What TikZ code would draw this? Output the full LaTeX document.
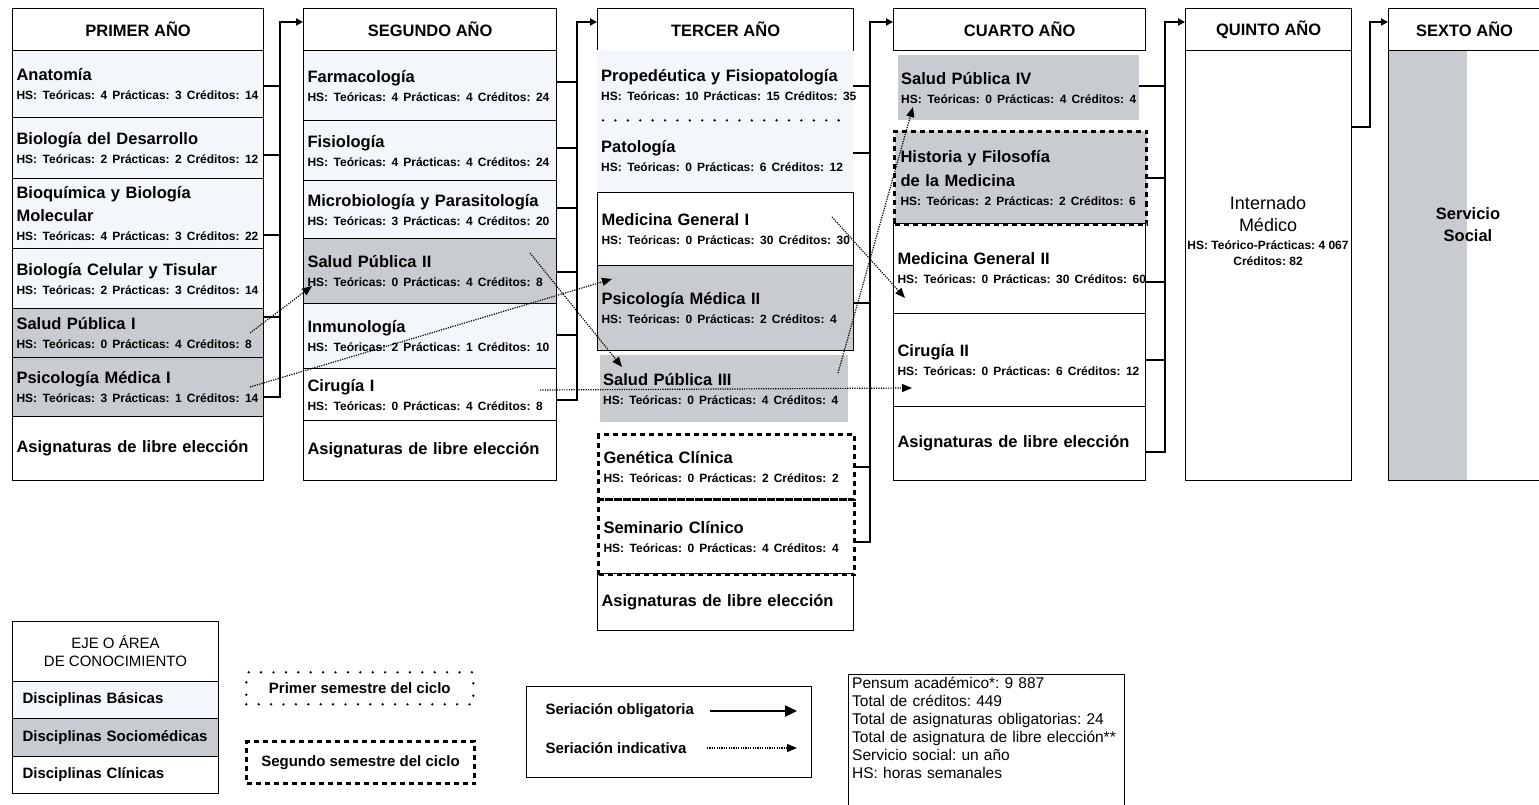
\documentclass[tikz,border=0pt]{standalone}
\usepackage{fontspec}
\setmainfont{Liberation Sans}
\usetikzlibrary{arrows.meta,calc}
\frenchspacing

\definecolor{basica}{RGB}{243,246,250}
\definecolor{socio}{RGB}{200,203,207}

\newcommand{\tfont}{\fontsize{16.5}{19}\selectfont\bfseries}
\newcommand{\hfont}{\fontsize{12}{14}\selectfont\bfseries}
\newcommand{\legf}{\fontsize{15}{18}\selectfont\bfseries}
% title line and hours line of one subject
\newcommand{\asig}[2]{#1\\{\hfont\mbox{#2}}}
\newcommand{\hs}[3]{HS: Teóricas: #1\hspace{5pt}Prácticas: #2\hspace{5pt}Créditos: #3}

\tikzset{
  yearhead/.style={draw, line width=1.2pt, anchor=north west, minimum height=42pt,
    font=\fontsize{16.5}{19}\selectfont\bfseries},
  row/.style={anchor=north west, align=left, inner xsep=4pt, inner ysep=2pt, font=\tfont},
  rowframe/.style={draw, line width=1.1pt},
  semdash/.style={draw, line width=3pt, dash pattern=on 5pt off 4pt},
  semdot/.style={draw, line width=2.6pt, dash pattern=on 0pt off 12.4pt, line cap=round},
  conn/.style={line width=1.8pt},
  oblig/.style={conn, -{Triangle[length=7pt,width=7pt]}},
  indic/.style={line width=1.2pt, dash pattern=on 1.2pt off 1.2pt, -{Triangle[length=10pt,width=8pt]}},
  legrow/.style={draw, line width=1pt, anchor=north west, align=left, text width=186pt,
    inner xsep=10pt, font=\legf},
}

\begin{document}
\begin{tikzpicture}[x=1pt, y=-1pt]

    \useasboundingbox (0,0) rectangle (1539,805);

    % Primer año
    \node[yearhead, minimum width=251pt] (h1) at (12,8) {PRIMER AÑO};
    \node[row, rowframe, fill=basica, text width=243pt, minimum height=67pt] (anat) at (12,50) {\asig{Anatomía}{\hs{4}{3}{14}}};
    \node[row, rowframe, fill=basica, text width=243pt, minimum height=61pt] (bdes) at (12,117) {\asig{Biología del Desarrollo}{\hs{2}{2}{12}}};
    \node[row, rowframe, fill=basica, text width=243pt, minimum height=70pt] (bioq) at (12,178) {Bioquímica y Biología\\[4pt]\asig{Molecular}{\hs{4}{3}{22}}};
    \node[row, rowframe, fill=basica, text width=243pt, minimum height=60pt] (bcel) at (12,248) {\asig{Biología Celular y Tisular}{\hs{2}{3}{14}}};
    \node[row, rowframe, fill=socio, text width=243pt, minimum height=49pt] (sp1) at (12,308) {\asig{Salud Pública I}{\hs{0}{4}{8}}};
    \node[row, rowframe, fill=socio, text width=243pt, minimum height=59pt] (psi1) at (12,357) {\asig{Psicología Médica I}{\hs{3}{1}{14}}};
    \node[row, rowframe, text width=243pt, minimum height=64pt] (lib1) at (12,416) {Asignaturas de libre elección};

    % Segundo año
    \node[yearhead, minimum width=253pt] (h2) at (303,8) {SEGUNDO AÑO};
    \node[row, rowframe, fill=basica, text width=245pt, minimum height=70pt] (farm) at (303,50) {\asig{Farmacología}{\hs{4}{4}{24}}};
    \node[row, rowframe, fill=basica, text width=245pt, minimum height=60pt] (fisi) at (303,120) {\asig{Fisiología}{\hs{4}{4}{24}}};
    \node[row, rowframe, fill=basica, text width=245pt, minimum height=58pt] (micro) at (303,180) {\asig{Microbiología y Parasitología}{\hs{3}{4}{20}}};
    \node[row, rowframe, fill=socio, text width=245pt, minimum height=65pt] (sp2) at (303,238) {\asig{Salud Pública II}{\hs{0}{4}{8}}};
    \node[row, rowframe, fill=basica, text width=245pt, minimum height=65pt] (inmu) at (303,303) {\asig{Inmunología}{\hs{2}{1}{10}}};
    \node[row, rowframe, text width=245pt, minimum height=52pt] (cir1) at (303,368) {\asig{Cirugía I}{\hs{0}{4}{8}}};
    \node[row, rowframe, text width=245pt, minimum height=60pt] (lib2) at (303,420) {Asignaturas de libre elección};

    % Tercer año
    \node[yearhead, minimum width=256pt] (h3) at (597,8) {TERCER AÑO};
    \node[row, fill=basica, text width=248pt, minimum height=70pt] (prop) at (597,50) {\asig{Propedéutica y Fisiopatología}{\hs{10}{15}{35}}};
    \node[row, fill=basica, text width=248pt, minimum height=72pt] (pato) at (597,120) {\asig{Patología}{\hs{0}{6}{12}}};
    \draw[semdot] ([xshift=6pt]prop.south west) -- ([xshift=-4pt]prop.south east);
    \node[row, rowframe, text width=248pt, minimum height=73pt] (mg1) at (597,192) {\asig{Medicina General I}{\hs{0}{30}{30}}};
    \node[row, rowframe, fill=socio, text width=248pt, minimum height=85pt] (psi2) at (597,265) {\asig{Psicología Médica II}{\hs{0}{2}{4}}};
    \node[row, fill=socio, inner xsep=3pt, text width=242pt, minimum height=67pt] (sp3) at (600,355) {\asig{Salud Pública III}{\hs{0}{4}{4}}};
    \node[row, rowframe, text width=248pt, minimum height=57pt] (lib3) at (597,573) {Asignaturas de libre elección};
    \node[row, semdash, inner xsep=5pt, text width=246pt, minimum height=65pt] (gen) at (597,433) {\asig{Genética Clínica}{\hs{0}{2}{2}}};
    \node[row, semdash, inner xsep=5pt, text width=246pt, minimum height=75pt] (sem) at (597,498) {\asig{Seminario Clínico}{\hs{0}{4}{4}}};

    % Cuarto año
    \node[yearhead, minimum width=252pt] (h4) at (893,8) {CUARTO AÑO};
    \node[row, fill=socio, inner xsep=3pt, text width=235pt, minimum height=65pt] (sp4) at (898,55) {\asig{Salud Pública IV}{\hs{0}{4}{4}}};
    \node[row, semdash, fill=socio, inner xsep=6pt, text width=240pt, minimum height=93pt] (hist) at (893,130) {Historia y Filosofía\\[5pt]\asig{de la Medicina}{\hs{2}{2}{6}}};
    \node[row, rowframe, text width=244pt, minimum height=90pt] (mg2) at (893,223) {\asig{Medicina General II}{\hs{0}{30}{60}}};
    \node[row, rowframe, text width=244pt, minimum height=93pt] (cir2) at (893,313) {\asig{Cirugía II}{\hs{0}{6}{12}}};
    \node[row, rowframe, text width=244pt, minimum height=74pt] (lib4) at (893,406) {Asignaturas de libre elección};

    % Quinto año
    \node[yearhead, minimum width=166pt] (h5) at (1185,8) {QUINTO AÑO};
    \node[rowframe, anchor=north west, minimum width=166pt, minimum height=430pt] (intb) at (1185,50) {};
    \node[align=center, font=\fontsize{18}{22}\selectfont] (intt) at (1268,231)
      {Internado\\Médico\\[-4pt]{\hfont HS: Teórico-Prácticas: 4 067}\\[-6pt]{\hfont Créditos: 82}};

    % Sexto año
    \node[yearhead, minimum width=152pt] (h6) at (1388,8) {SEXTO AÑO};
    \node[fill=socio, anchor=north west, minimum width=79pt, minimum height=430pt] (ssg) at (1388,50) {};
    \node[rowframe, anchor=north west, minimum width=152pt, minimum height=430pt] (ssb) at (1388,50) {};
    \node[align=center, font=\fontsize{16.5}{22}\selectfont\bfseries] (sst) at (1468,225) {Servicio\\Social};

    % seriación obligatoria
    \coordinate (bus1) at (280,22);
    \coordinate (bus2) at (577,22);
    \coordinate (bus3) at (870,22);
    \coordinate (bus4) at (1165,22);
    \coordinate (bus5) at (1370,22);

    \foreach \n/\y in {anat/86, bdes/155, bioq/235, sp1/317}
      \draw[conn] (\n.east |- 0,\y) -- (bus1 |- 0,\y);
    \draw[oblig] (psi1.east |- 0,397) -| (bus1) -- (h2.west |- bus1);

    \foreach \n/\y in {farm/82, fisi/148, micro/208, sp2/272, inmu/335}
      \draw[conn] (\n.east |- 0,\y) -- (bus2 |- 0,\y);
    \draw[oblig] (cir1.east |- 0,400) -| (bus2) -- (h3.west |- bus2);

    \foreach \n/\y in {prop/86, pato/153, psi2/303, gen/467}
      \draw[conn] (\n.east |- 0,\y) -- (bus3 |- 0,\y);
    \draw[oblig] (sem.east |- 0,542) -| (bus3) -- (h4.west |- bus3);

    \foreach \n/\y in {sp4/86, hist/178, mg2/282, cir2/360}
      \draw[conn] (\n.east |- 0,\y) -- (bus4 |- 0,\y);
    \draw[oblig] (lib4.east |- 0,452) -| (bus4) -- (h5.west |- bus4);

    \draw[oblig] (intb.east |- 0,127) -| (bus5) -- (h6.west |- bus5);

    % seriación indicativa
    \coordinate (i1a) at (250,333);  \coordinate (i1b) at (312,286);
    \coordinate (i2a) at (250,387);  \coordinate (i2b) at (612,279);
    \coordinate (i3a) at (530,253);  \coordinate (i3b) at (622,367);
    \coordinate (i4a) at (540,390);  \coordinate (i4b) at (912,388);
    \coordinate (i5a) at (832,217);  \coordinate (i5b) at (905,298);
    \coordinate (i6a) at (838,373);  \coordinate (i6b) at (913,107);
    \foreach \k in {1,...,6}
      \draw[indic] (i\k a) -- (i\k b);

    % leyenda: ejes
    \node[draw, line width=1pt, anchor=north west, minimum width=206pt, minimum height=60pt,
      align=center, font=\fontsize{15}{18}\selectfont] (eje) at (12,621) {EJE O ÁREA\\DE CONOCIMIENTO};
    \node[legrow, fill=basica, minimum height=37pt] (lbas) at (12,681) {Disciplinas Básicas};
    \node[legrow, fill=socio, minimum height=38pt] (lsoc) at (12,718) {Disciplinas Sociomédicas};
    \node[legrow, minimum height=37pt] (lcli) at (12,756) {Disciplinas Clínicas};

    % leyenda: semestres
    \node[semdot, anchor=north west, minimum width=227pt, minimum height=32pt, font=\legf] (lsem1) at (245,671) {Primer semestre del ciclo};
    \node[semdash, anchor=north west, minimum width=228pt, minimum height=42pt, font=\legf] (lsem2) at (245,740) {Segundo semestre del ciclo};

    % leyenda: seriación
    \node[draw, line width=1pt, anchor=north west, minimum width=285pt, minimum height=91pt] (lser) at (526,686) {};
    \node[anchor=west, font=\legf] (lob) at (542,711) {Seriación obligatoria};
    \node[anchor=west, font=\legf] (lin) at (542,748) {Seriación indicativa};
    \draw[line width=2.4pt, -{Triangle[length=12pt,width=11pt]}] (lob.east -| 710,0) -- (lob.east -| 797,0);
    \draw[indic] (lin.east -| 707,0) -- (lin.east -| 797,0);

    % totales
    \node[anchor=north west, align=left, text width=268pt, inner xsep=4pt, inner ysep=3pt,
      font=\fontsize{15.5}{18}\selectfont] (info) at (848,674)
      {Pensum académico*: 9 887\\Total de créditos: 449\\Total de asignaturas obligatorias: 24\\Total de asignatura de libre elección**\\Servicio social: un año\\HS: horas semanales};
    \draw[line width=1pt] (info.north west |- 0,812) -- (info.north west) -- (info.north east) -- (info.north east |- 0,812);

\end{tikzpicture}
\end{document}
